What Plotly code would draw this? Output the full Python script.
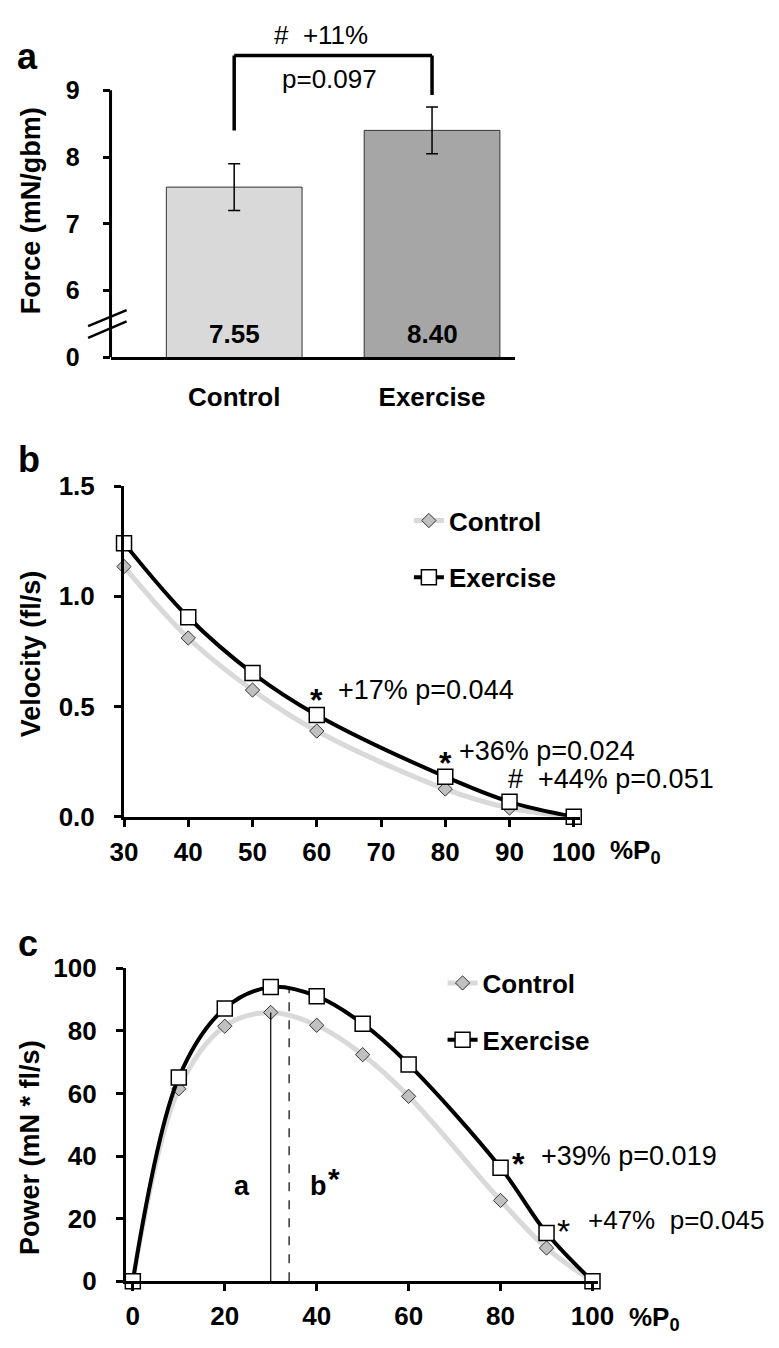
import plotly.graph_objects as go

# The page body has a default 8px margin; the figure is sized so that
# its paper coordinates line up with the 779x1348 window.
W, H = 779, 1348
OFF = 8
FW, FH = W - OFF, H - OFF
FONT = "Liberation Sans, Arial, Helvetica, sans-serif"

# ---------------- data ----------------
# Panel a: maximal force
groups = ["Control", "Exercise"]
force = [7.55, 8.40]
force_err = [0.35, 0.35]
force_labels = ["7.55", "8.40"]
bar_colors = ["#d9d9d9", "#a6a6a6"]
a_tickvals = [5, 6, 7, 8, 9]          # broken axis: value 5 is shown as "0"
a_ticktext = ["0", "6", "7", "8", "9"]

# Panel b: force-velocity
load_b = [30, 40, 50, 60, 80, 90, 100]
vel_control = [1.135, 0.811, 0.575, 0.389, 0.126, 0.040, 0.0]
vel_exercise = [1.241, 0.905, 0.652, 0.462, 0.182, 0.068, 0.0]
b_ticks = [30, 40, 50, 60, 70, 80, 90, 100]
b_yticks = [0.0, 0.5, 1.0, 1.5]

# Panel c: force-power
load_c = [0, 10, 20, 30, 40, 50, 60, 80, 90, 100]
pow_control = [0, 61.5, 81.5, 85.9, 81.8, 72.4, 59.1, 25.8, 10.6, 0]
pow_exercise = [0, 65.1, 87.2, 94.0, 91.1, 82.3, 69.3, 36.3, 15.4, 0]
c_ticks = [0, 20, 40, 60, 80, 100]
peak_control_x = 30
peak_exercise_x = 34

CTRL_LINE = "#d9d9d9"
CTRL_FILL = "#c0c0c0"


def px_x(p):
    return (p - OFF) / FW


def px_y(p):
    return 1 - (p - OFF) / FH


fig = go.Figure()

# ---------------- panel a ----------------
fig.add_trace(go.Bar(
    x=groups, y=force, marker=dict(color=bar_colors, line=dict(color="#333333", width=1)),
    width=0.686, error_y=dict(type="data", array=force_err, color="black", thickness=1.5, width=6),
    xaxis="x", yaxis="y", showlegend=False, hoverinfo="skip"))

# ---------------- panel b ----------------
fig.add_trace(go.Scatter(
    x=load_b, y=vel_control, mode="lines+markers", name="Control",
    line=dict(color=CTRL_LINE, width=5, shape="spline", smoothing=1),
    marker=dict(symbol="diamond", size=11, color=CTRL_FILL, line=dict(color="#333333", width=1)),
    xaxis="x2", yaxis="y2", cliponaxis=False, legend="legend", legendgroup="bc"))
fig.add_trace(go.Scatter(
    x=load_b, y=vel_exercise, mode="lines+markers", name="Exercise",
    line=dict(color="black", width=4, shape="spline", smoothing=1),
    marker=dict(symbol="square", size=15, color="white", line=dict(color="black", width=1.5)),
    xaxis="x2", yaxis="y2", cliponaxis=False, legend="legend", legendgroup="be"))

# ---------------- panel c ----------------
fig.add_trace(go.Scatter(
    x=load_c, y=pow_control, mode="lines+markers", name="Control",
    line=dict(color=CTRL_LINE, width=5, shape="spline", smoothing=1),
    marker=dict(symbol="diamond", size=11, color=CTRL_FILL, line=dict(color="#333333", width=1)),
    xaxis="x3", yaxis="y3", cliponaxis=False, legend="legend2", legendgroup="cc"))
fig.add_trace(go.Scatter(
    x=load_c, y=pow_exercise, mode="lines+markers", name="Exercise",
    line=dict(color="black", width=4, shape="spline", smoothing=1),
    marker=dict(symbol="square", size=15, color="white", line=dict(color="black", width=1.5)),
    xaxis="x3", yaxis="y3", cliponaxis=False, legend="legend2", legendgroup="ce"))

bold26 = dict(family=FONT, size=26, color="black", weight="bold")
axis_common = dict(showgrid=False, zeroline=False, linecolor="black", linewidth=3,
                   tickcolor="black", tickwidth=3, ticklen=7, fixedrange=True)
axis_a_x = {k: v for k, v in axis_common.items() if k != "ticklen"}

fig.update_layout(
    width=FW, height=FH, margin=dict(l=0, r=0, t=0, b=0),
    paper_bgcolor="white", plot_bgcolor="white",
    font=dict(family=FONT, color="black"),
    xaxis=dict(domain=[px_x(100), px_x(520)], range=[-0.625, 1.418], anchor="y",
               showline=True, ticks="", tickfont=bold26, ticklabelstandoff=14, **axis_a_x),
    yaxis=dict(domain=[px_y(350), px_y(12)], range=[5, 9.95], anchor="x",
               showline=False, ticks="outside", tickvals=a_tickvals, ticktext=a_ticktext,
               tickfont=dict(family=FONT, size=25, color="black", weight="bold"),
               ticklabelstandoff=18, **axis_common),
    xaxis2=dict(domain=[px_x(114), px_x(588)], range=[30, 101], anchor="y2",
                showline=True, ticks="outside", tickvals=b_ticks, tickfont=bold26,
                ticklabelstandoff=3, **axis_common),
    yaxis2=dict(domain=[px_y(820), px_y(481.7)], range=[0, 1.5], anchor="x2",
                showline=True, ticks="outside", tickvals=b_yticks, tickformat=".1f",
                tickfont=bold26, ticklabelstandoff=14, **axis_common),
    xaxis3=dict(domain=[px_x(116), px_x(607)], range=[-1.5, 101.3], anchor="y3",
                showline=True, ticks="outside", tickvals=c_ticks, tickfont=bold26,
                ticklabelstandoff=3, **axis_common),
    yaxis3=dict(domain=[px_y(1295), px_y(975)], range=[0, 100], anchor="x3",
                showline=True, ticks="outside", tickvals=c_ticks,
                tickfont=bold26, ticklabelstandoff=14, **axis_common),
    legend=dict(x=px_x(410), y=px_y(493), xanchor="left", yanchor="top",
                font=bold26, bgcolor="rgba(0,0,0,0)", tracegroupgap=20, traceorder="grouped"),
    legend2=dict(x=px_x(445), y=px_y(966), xanchor="left", yanchor="top",
                 font=bold26, bgcolor="rgba(0,0,0,0)", tracegroupgap=20, traceorder="grouped"),
)

shapes = []
# panel a: y axis line (only up to 9), broken-axis marks, significance bracket
shapes.append(dict(type="line", xref="x domain", yref="y", x0=0, x1=0, y0=a_tickvals[0], y1=a_tickvals[-1],
                   line=dict(color="black", width=3)))
for (ya, yb) in [(318, 301.7), (330, 313.3)]:
    shapes.append(dict(type="line", xref="paper", yref="paper", x0=px_x(76.7), x1=px_x(116.7),
                       y0=px_y(ya), y1=px_y(yb), line=dict(color="black", width=2.5)))
br_top = 9.52
shapes.append(dict(type="line", xref="x", yref="y", x0=0, x1=0, y0=8.40, y1=br_top, line=dict(color="black", width=3.5)))
shapes.append(dict(type="line", xref="x", yref="y", x0=0, x1=1, y0=br_top, y1=br_top, line=dict(color="black", width=3.5)))
shapes.append(dict(type="line", xref="x", yref="y", x0=1, x1=1, y0=8.93, y1=br_top, line=dict(color="black", width=3.5)))
# panel c: peak power markers
shapes.append(dict(type="line", xref="x3", yref="y3", x0=peak_control_x, x1=peak_control_x,
                   y0=0, y1=max(pow_control), line=dict(color="black", width=1.2)))
shapes.append(dict(type="line", xref="x3", yref="y3", x0=peak_exercise_x, x1=peak_exercise_x,
                   y0=0, y1=max(pow_exercise), line=dict(color="black", width=1.2, dash="dash")))
fig.update_layout(shapes=shapes)

ann = []


def A(text, x, y, xref="paper", yref="paper", size=26, bold=False, xanchor="center", yanchor="middle", angle=0):
    f = dict(family=FONT, size=size, color="black")
    if bold:
        f["weight"] = "bold"
    ann.append(dict(text=text, x=x, y=y, xref=xref, yref=yref, showarrow=False, font=f,
                    xanchor=xanchor, yanchor=yanchor, textangle=angle))


# panel letters
A("a", px_x(14), px_y(42), size=36, bold=True)
A("b", px_x(15), px_y(455), size=36, bold=True)
A("c", px_x(14), px_y(950), size=36, bold=True)
# y titles
A("Force (mN/gbm)", px_x(17), px_y(200), size=27, bold=True, angle=-90)
A("Velocity (fl/s)", px_x(17), px_y(653), size=27, bold=True, angle=-90)
A("Power (mN * fl/s)", px_x(17), px_y(1158), size=27, bold=True, angle=-90)
# %P0
A("%P<sub>0</sub>", px_x(617), px_y(855), size=26, bold=True, xanchor="left")
A("%P<sub>0</sub>", px_x(637), px_y(1333), size=26, bold=True, xanchor="left")

# panel a annotations
for i, lab in enumerate(force_labels):
    A(lab, i, 5.35, xref="x", yref="y", size=26, bold=True)
A("#  +11%", 0.44, 9.835, xref="x", yref="y", size=26)
A("p=0.097", 0.484, 9.176, xref="x", yref="y", size=26)

# panel b annotations
A("*", 60, 0.53, xref="x2", yref="y2", size=32, bold=True)
A("+17% p=0.044", 63, 0.577, xref="x2", yref="y2", size=27, xanchor="left")
A("*", 80, 0.245, xref="x2", yref="y2", size=32, bold=True)
A("+36% p=0.024", 81.9, 0.297, xref="x2", yref="y2", size=27, xanchor="left")
A("#", 90.9, 0.173, xref="x2", yref="y2", size=27)
A("+44% p=0.051", 94.2, 0.173, xref="x2", yref="y2", size=27, xanchor="left")

# panel c annotations
A("*", 83.8, 37.5, xref="x3", yref="y3", size=32, bold=True)
A("+39% p=0.019", 88.4, 40, xref="x3", yref="y3", size=27, xanchor="left")
A("*", 93.7, 15.9, xref="x3", yref="y3", size=34)
A("+47%  p=0.045", 98.5, 19.7, xref="x3", yref="y3", size=26, xanchor="left")
A("a", 23.8, 30.3, xref="x3", yref="y3", size=27, bold=True)
A("b", 40.3, 30.3, xref="x3", yref="y3", size=27, bold=True)
A("*", 43.7, 32.8, xref="x3", yref="y3", size=30, bold=True)

fig.update_layout(annotations=ann)

fig.write_html("out.html")
